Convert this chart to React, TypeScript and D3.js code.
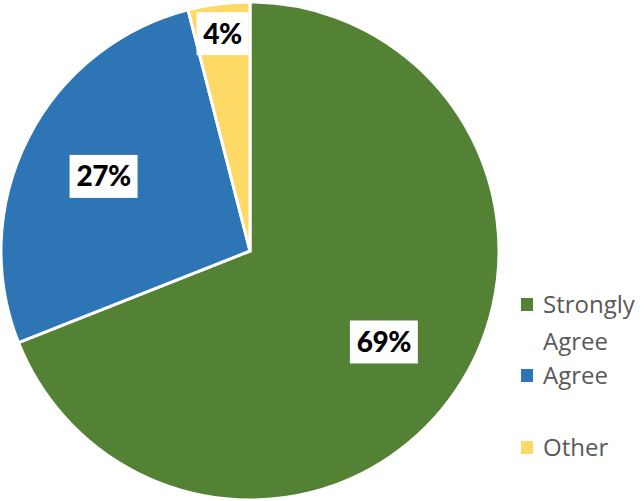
import React from "react";
import * as d3 from "d3";

const categories = ["Strongly Agree", "Agree", "Other"];
const values = [69, 27, 4];
const colors = ["#548235", "#2E75B6", "#FFD966"];
const labelRadiusFactor = [0.65, 0.66, 0.88];
const legendLines = [["Strongly", "Agree"], ["Agree"], ["Other"]];

export default function App() {
  const width = 644;
  const height = 501;
  const cx = 250;
  const cy = 251;
  const r = 249;
  const pie = d3.pie<number>().sort(null).value((d) => d);
  const arcs = pie(values);
  const arc = d3.arc<d3.PieArcDatum<number>>().innerRadius(0).outerRadius(r);

  const legendY = [305, 376, 448];

  return (
    <svg width={width} height={height} style={{ position: "absolute", left: 0, top: 0 }}>
      <rect width={width} height={height} fill="#ffffff" />
      <g transform={`translate(${cx},${cy})`}>
        {arcs.map((a, i) => (
          <path key={i} d={arc(a) || ""} fill={colors[i]} stroke="#ffffff" strokeWidth={3} strokeLinejoin="round" />
        ))}
        {arcs.map((a, i) => {
          const lr = r * labelRadiusFactor[i];
          const la = d3.arc<d3.PieArcDatum<number>>().innerRadius(lr).outerRadius(lr);
          const [x, y] = la.centroid(a);
          const txt = `${values[i]}%`;
          const w = 20 + txt.length * 16;
          const h = 43;
          return (
            <g key={"l" + i} transform={`translate(${x},${y})`}>
              <rect x={-w / 2} y={-h / 2} width={w} height={h} fill="#ffffff" />
              <text
                textAnchor="middle"
                dy="0.36em"
                fontFamily="Lato, 'Open Sans', sans-serif"
                fontWeight={900}
                fontSize={28}
                letterSpacing={-0.5}
                fill="#000000"
              >
                {txt}
              </text>
            </g>
          );
        })}
      </g>
      <g fontFamily="'Open Sans', sans-serif" fontSize={24} fill="#595959">
        {categories.map((c, i) => (
          <g key={c} transform={`translate(521,${legendY[i]})`}>
            <rect x={0} y={-7} width={12} height={13} fill={colors[i]} />
            {legendLines[i].map((line, j) => (
              <text key={j} x={22} y={8 + j * 37} fill="#595959">
                {line}
              </text>
            ))}
          </g>
        ))}
      </g>
    </svg>
  );
}
